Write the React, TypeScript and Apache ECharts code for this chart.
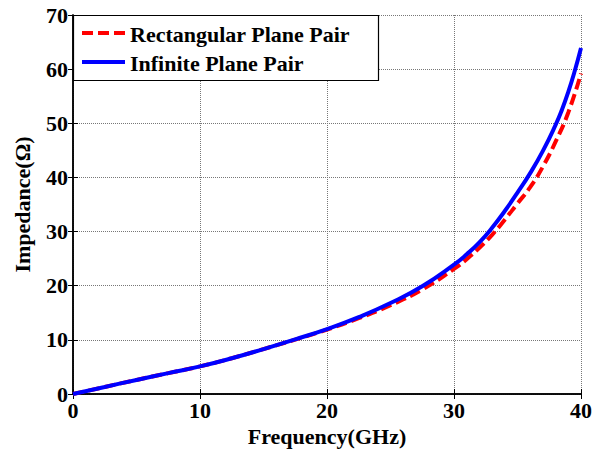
import React, { useEffect, useRef } from "react";
import * as echarts from "echarts";

const freqRect = [0, 2.5, 5, 7.5, 10, 12.5, 15, 17.5, 20, 22.5, 25, 27.5, 30, 31, 32, 33, 34, 35, 36, 37, 38, 39, 40];
const rectValues = [0, 1.3, 2.6, 3.85, 5.1, 6.6, 8.3, 10.05, 11.9, 14.0, 16.4, 19.3, 23.1, 24.9, 27.0, 29.4, 32.2, 35.2, 38.2, 42.0, 46.6, 52.0, 59.2];
const freqInf = [0, 2.5, 5, 7.5, 10, 12.5, 15, 17.5, 20, 22.5, 25, 27.5, 30, 31, 32, 33, 34, 35, 36, 37, 38, 38.5, 39, 39.5, 40];
const infValues = [0, 1.3, 2.6, 3.85, 5.1, 6.6, 8.3, 10.1, 12.0, 14.2, 16.8, 19.9, 23.9, 25.8, 28.0, 30.7, 33.8, 37.2, 40.8, 44.9, 49.7, 52.5, 55.8, 59.6, 63.9];
const seriesNames = ["Rectangular Plane Pair", "Infinite Plane Pair"];
const seriesColors = ["#ff0000", "#0000ff"];
const xTitle = "Frequency(GHz)";
const yTitle = "Impedance(Ω)";

const FONT = "'Liberation Serif', 'Times New Roman', serif";
const FS = 22;

export default function App() {
  const ref = useRef<HTMLDivElement>(null);
  useEffect(() => {
    if (!ref.current) return;
    const chart = echarts.init(ref.current, null, { renderer: "svg" });
    const axisLine = { show: true, lineStyle: { color: "#000", width: 1.5 } };
    const tick = { show: true, inside: true, length: 5, lineStyle: { color: "#000", width: 1 } };
    const split = { show: true, lineStyle: { color: "#777", width: 1, type: "dotted" as const } };
    const textStyle = { fontFamily: FONT, fontWeight: "bold" as const, fontSize: FS, color: "#000" };
    chart.setOption({
      animation: false,
      backgroundColor: "#fff",
      grid: { left: 73, top: 15, right: 14, bottom: 60, containLabel: false },
      graphic: [
        {
          type: "rect",
          z: 100,
          shape: { x: 73.5, y: 15.5, width: 305, height: 65 },
          style: { fill: "#fff", stroke: "#000", lineWidth: 1.2 },
        },
        {
          type: "line",
          z: 101,
          shape: { x1: 82, y1: 33, x2: 125, y2: 33 },
          style: { stroke: seriesColors[0], lineWidth: 4, lineDash: [11, 5] },
        },
        {
          type: "line",
          z: 101,
          shape: { x1: 82, y1: 62, x2: 125, y2: 62 },
          style: { stroke: seriesColors[1], lineWidth: 4 },
        },
        {
          type: "text",
          z: 101,
          x: 130,
          y: 34,
          style: { text: seriesNames[0], font: `bold ${FS}px ${FONT}`, fill: "#000", verticalAlign: "middle", align: "left" },
        },
        {
          type: "text",
          z: 101,
          x: 130,
          y: 63,
          style: { text: seriesNames[1], font: `bold ${FS}px ${FONT}`, fill: "#000", verticalAlign: "middle", align: "left" },
        },
      ],
      xAxis: [
        {
          type: "value",
          min: 0,
          max: 40,
          interval: 10,
          name: xTitle,
          nameLocation: "middle",
          nameGap: 31,
          nameTextStyle: textStyle,
          axisLine,
          axisTick: tick,
          splitLine: split,
          axisLabel: { ...textStyle, margin: 5 },
        },
        {
          type: "value",
          position: "top",
          min: 0,
          max: 40,
          interval: 10,
          axisLine,
          axisTick: tick,
          splitLine: { show: false },
          axisLabel: { show: false },
        },
      ],
      yAxis: [
        {
          type: "value",
          min: 0,
          max: 70,
          interval: 10,
          name: yTitle,
          nameLocation: "middle",
          nameGap: 40,
          nameTextStyle: textStyle,
          axisLine,
          axisTick: tick,
          splitLine: split,
          axisLabel: { ...textStyle, margin: 5 },
        },
        {
          type: "value",
          position: "right",
          min: 0,
          max: 70,
          interval: 10,
          axisLine,
          axisTick: tick,
          splitLine: { show: false },
          axisLabel: { show: false },
        },
      ],
      series: [
        {
          name: seriesNames[0],
          type: "line",
          data: freqRect.map((f, i) => [f, rectValues[i]]),
          smooth: 0.5,
          symbol: "none",
          lineStyle: { color: seriesColors[0], width: 4, type: [11, 5] },
          itemStyle: { color: seriesColors[0] },
          z: 2,
        },
        {
          name: seriesNames[1],
          type: "line",
          data: freqInf.map((f, i) => [f, infValues[i]]),
          smooth: 0.5,
          symbol: "none",
          lineStyle: { color: seriesColors[1], width: 4, type: "solid" },
          itemStyle: { color: seriesColors[1] },
          z: 3,
        },
      ],
    });
    return () => chart.dispose();
  }, []);
  return <div ref={ref} style={{ width: 595, height: 454, position: "absolute", left: 0, top: 0 }} />;
}
